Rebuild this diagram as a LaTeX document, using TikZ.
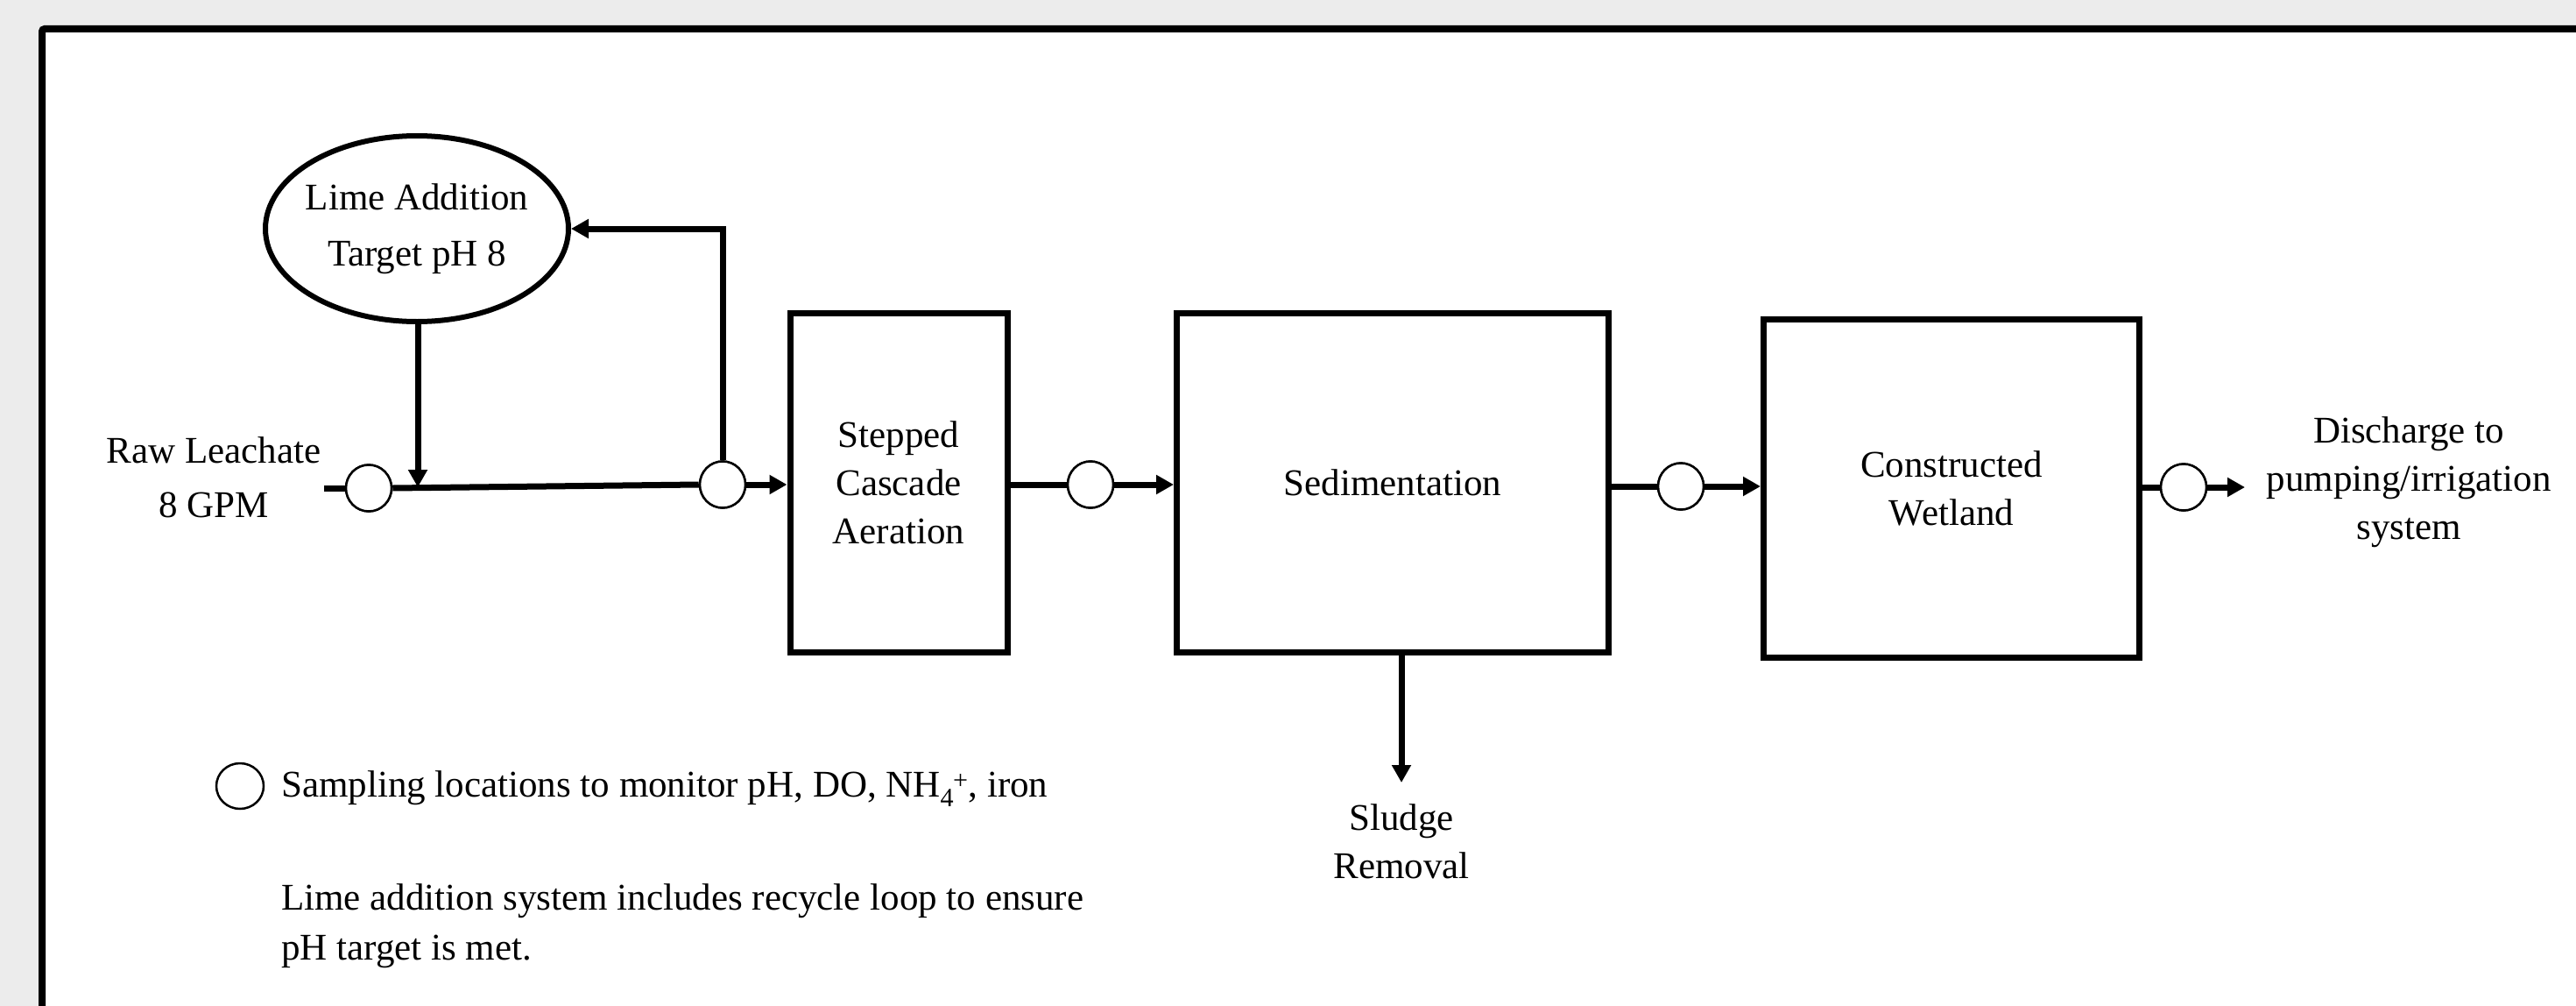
\documentclass[tikz,border=0pt]{standalone}
\usepackage{fontspec}
\setmainfont{Liberation Serif}
\usetikzlibrary{arrows.meta,shapes.geometric,calc}
\begin{document}
\begin{tikzpicture}[x=1pt,y=-1pt,
  every node/.style={font=\fontsize{43}{55}\selectfont, inner sep=0pt},
  procbox/.style={draw, line width=7pt, rectangle, align=center},
  sampler/.style={draw, line width=2.5pt, ellipse, fill=white, minimum width=52pt, minimum height=53pt},
  flow/.style={line width=7pt},
  arr/.style={line width=7pt, -{Triangle[length=20pt,width=21pt]}},
  lbl/.style={align=center}
]
\clip (0,0) rectangle (2941,1148);
\fill[gray!15] (0,0) rectangle (2941,1148);
\draw[line width=8pt, fill=white, rounded corners=3pt] (48,33) rectangle (3100,1300);

% process blocks
\node[procbox, minimum width=248pt, minimum height=387pt] (aer) at (1026,551) {Stepped\\Cascade\\Aeration};
\node[procbox, minimum width=493pt, minimum height=387pt] (sed) at (1590,551) {Sedimentation};
\node[procbox, minimum width=429pt, minimum height=386pt] (wet) at (2228,557) {Constructed\\Wetland};
\node[draw, line width=6pt, ellipse, inner xsep=-40pt, inner ysep=0pt, minimum width=346pt, minimum height=212pt, align=center] (lime) at (476,261) {\rule{0pt}{12pt}Lime Addition\\[9pt]Target pH 8};

% labels
\node[lbl] (raw) at (244,545) {Raw Leachate\\[7pt]8 GPM};
\node[lbl] (dis) at (2750,550) {Discharge to\\pumping/irrigation\\system};
\node[lbl] (sludge) at (1600,960) {Sludge\\Removal};

% sampling points
\node[sampler] (c1) at (421,557) {};
\node[sampler] (c2) at (825,553) {};
\node[sampler] (c3) at (1245,553) {};
\node[sampler] (c4) at (1919,555) {};
\node[sampler] (c5) at (2493,556) {};

\coordinate (start) at (370,557);
\coordinate (join) at (477,556);
\coordinate (outend) at (2563,556);
\coordinate (slstart) at (1600,745);
\coordinate (slend) at (1600,893);

\draw[flow] (start) -- (c1.west);
\draw[flow] (c1.east) -- (c2.west);
\draw[arr] (lime.south -| join) -- (join);
\draw[arr] (c2.north) |- (lime.east);
\draw[arr] (c2.east) -- (aer.west |- c2);
\draw[flow] (aer.east |- c3) -- (c3.west);
\draw[arr] (c3.east) -- (sed.west |- c3);
\draw[flow] (sed.east |- c4) -- (c4.west);
\draw[arr] (c4.east) -- (wet.west |- c4);
\draw[flow] (wet.east |- c5) -- (c5.west);
\draw[arr] (c5.east) -- (outend);
\draw[arr] (slstart) -- (slend);

% redraw samplers on top
\node[sampler] at (c1) {};
\node[sampler] at (c2) {};
\node[sampler] at (c3) {};
\node[sampler] at (c4) {};
\node[sampler] at (c5) {};

% legend
\node[sampler, minimum width=54pt, minimum height=52pt] (lg) at (274,897) {};
\node[anchor=west] (legtext) at (321,900) {Sampling locations to monitor pH, DO, NH\textsubscript{4}\kern-1pt\textsuperscript{+}, iron};
\node[anchor=north west, align=left, font=\fontsize{43}{57}\selectfont] (note) at (321,1008) {Lime addition system includes recycle loop to ensure\\pH target is met.};
\end{tikzpicture}
\end{document}
